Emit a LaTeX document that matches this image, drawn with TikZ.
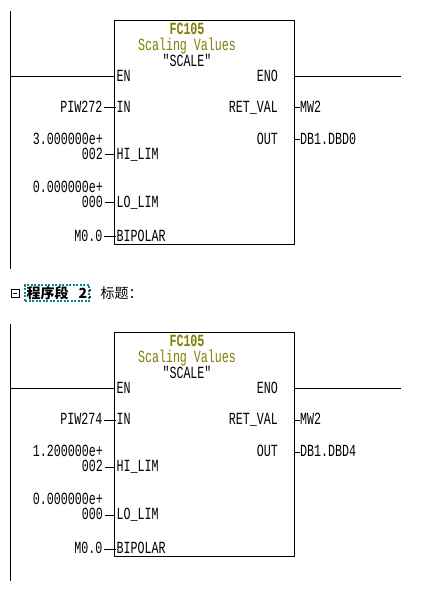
\documentclass[tikz,border=0pt]{standalone}
\usepackage{fontspec}
\newfontfamily\plcfont[FakeStretch=0.686]{Liberation Mono}
\newfontfamily\cjkfont{Noto Sans CJK SC}
\definecolor{fcolive}{HTML}{808000}
\definecolor{segteal}{HTML}{008B8B}
\tikzset{
  wire/.style={line width=1pt, line cap=rect},
  fcbox/.style={draw, line width=1pt, minimum width=180pt, minimum height=224pt, inner sep=0pt},
  lbl/.style={font=\plcfont\fontsize{17}{18}\selectfont, inner sep=0pt, text height=9.8pt, text depth=0pt},
  valstack/.style={font=\plcfont\fontsize{17}{15}\selectfont, inner sep=0pt, align=right, text depth=0pt, anchor=south east},
  titlelbl/.style={lbl, text=fcolive},
  segbox/.style={draw=segteal, line width=1.2pt, dash pattern=on 2pt off 1.5pt, inner sep=0pt,
     minimum width=64pt, minimum height=16pt, font=\cjkfont\bfseries\fontsize{14}{14}\selectfont},
  cjklbl/.style={inner sep=0pt, font=\cjkfont\fontsize{14}{14}\selectfont}
}
% #1 prefix, #2 vertical offset, #3 IN value, #4 HI_LIM mantissa, #5 OUT value
\newcommand\plcblock[5]{%
\begin{scope}[shift={(0,#2)}]
  \coordinate (#1railtop) at (10,12);
  \coordinate (#1railbot) at (10,268);
  \draw[wire] (#1railtop) -- (#1railbot);
  \node[fcbox, anchor=north west] (#1box) at (114.3,20.3) {};
  \node[titlelbl, font=\plcfont\bfseries\fontsize{17}{18}\selectfont] (#1fc) at (187,29.5) {FC105};
  \node[titlelbl] (#1desc) at (187,46) {Scaling Values};
  \node[lbl] (#1sym) at (187,62) {″SCALE″};
  % EN / ENO
  \coordinate (#1enL) at (10,76.3);
  \coordinate (#1enoR) at (400,76.3);
  \draw[wire] (#1enL) -- (#1enL -| #1box.west);
  \draw[wire] (#1box.east |- #1enoR) -- (#1enoR);
  \node[lbl, anchor=west] (#1en) at (116.5,76.3) {EN};
  \node[lbl, anchor=east] (#1eno) at (278,76.3) {ENO};
  % input pins
  \node[lbl, anchor=west] (#1in) at (116.5,108) {IN};
  \node[lbl, anchor=west] (#1hi) at (116.5,155) {HI\_LIM};
  \node[lbl, anchor=west] (#1lo) at (116.5,203) {LO\_LIM};
  \node[lbl, anchor=west] (#1bp) at (116.5,237) {BIPOLAR};
  % output pins
  \node[lbl, anchor=east] (#1ret) at (278,108) {RET\_VAL};
  \node[lbl, anchor=east] (#1out) at (278,140) {OUT};
  % input values
  \node[lbl, anchor=east] (#1inv) at (102.5,108) {#3};
  \node[valstack] (#1hiv) at (103,159.9) {#4\\002};
  \node[valstack] (#1lov) at (103,207.9) {0.000000e+\\000};
  \node[lbl, anchor=east] (#1bpv) at (102.5,237) {M0.0};
  \coordinate (#1hiend) at (104.5,155);
  \coordinate (#1loend) at (104.5,203);
  \draw[wire, line cap=butt] ([xshift=1.5pt]#1inv.east) -- ([xshift=1.5pt]#1inv.east -| #1box.west);
  \draw[wire, line cap=butt] ([xshift=1.5pt]#1bpv.east) -- ([xshift=1.5pt]#1bpv.east -| #1box.west);
  \draw[wire, line cap=butt] (#1hiend) -- (#1hiend -| #1box.west);
  \draw[wire, line cap=butt] (#1loend) -- (#1loend -| #1box.west);
  % output values
  \node[lbl, anchor=west] (#1retv) at (300,108) {MW2};
  \node[lbl, anchor=west] (#1outv) at (300,140) {#5};
  \foreach \v in {retv,outv}{
    \draw[wire, line cap=butt] (#1box.east |- #1\v.west) -- (#1\v.west);
  }
\end{scope}}
\begin{document}
\begin{tikzpicture}[x=1pt, y=-1pt]
  \useasboundingbox[fill=white] (0,0) rectangle (442,609);
  \plcblock{a}{0}{PIW272}{3.000000e+}{DB1.DBD0}
  % segment header
  \node[draw, line width=0.8pt, minimum width=8pt, minimum height=7.5pt, inner sep=0pt] (collapse) at (15,293.5) {};
  \draw[line width=0.8pt] ([xshift=2pt]collapse.west) -- ([xshift=-2pt]collapse.east);
  \node[segbox] (seg) at (57,293) {程序段\hspace{10pt}2};
  \node[cjklbl, anchor=west] (segtitle) at (86.5,293) {：标题：};
  \plcblock{b}{312}{PIW274}{1.200000e+}{DB1.DBD4}
\end{tikzpicture}
\end{document}
